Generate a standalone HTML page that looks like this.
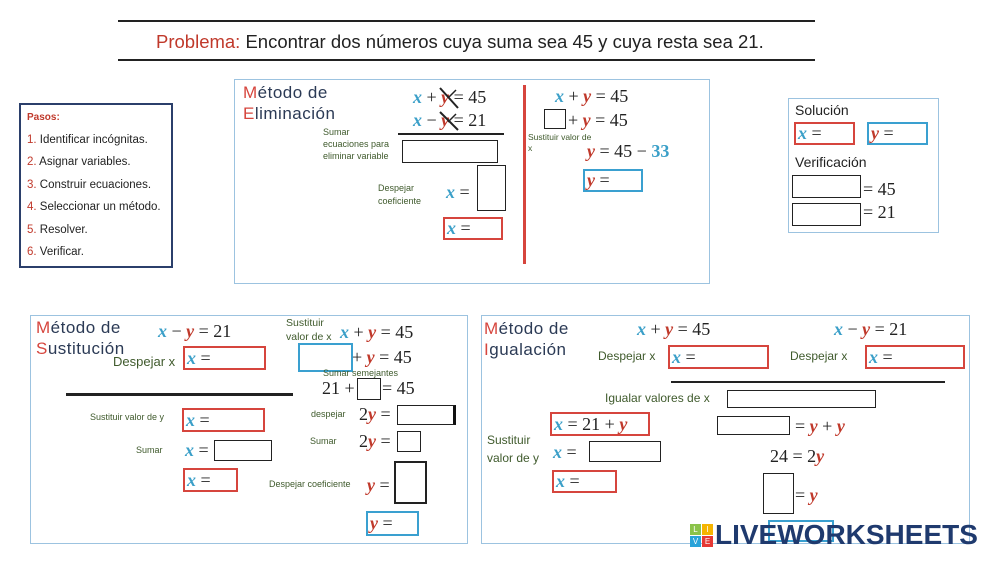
<!DOCTYPE html>
<html><head><meta charset="utf-8"><style>
*{margin:0;padding:0;box-sizing:border-box}
body{width:999px;height:562px;background:#fff;position:relative;overflow:hidden;font-family:"Liberation Sans",sans-serif;color:#222}
.a{position:absolute;white-space:nowrap;line-height:1}
.b{position:absolute;border:1px solid #222;background:#fff}
.r{border:2px solid #d6453d}
.bl{border:2px solid #3aa0d0}
.m{font-family:"Liberation Serif",serif;font-size:18px;color:#222}
.x{color:#3a9fc8;font-style:italic;font-weight:bold}
.y{color:#c0392b;font-style:italic;font-weight:bold}
.g{color:#3f5a2c;font-size:9px}
.h{font-size:17px;color:#2b3a55;line-height:21px;letter-spacing:0.5px}
.h span{color:#d6453d}
.frame{position:absolute;border:1px solid #9cc3e0}
</style></head><body>
<!-- title -->
<div class="a" style="left:118px;top:20px;width:697px;height:2px;background:#222"></div>
<div class="a" style="left:118px;top:59px;width:697px;height:2px;background:#222"></div>
<div class="a" style="left:156px;top:33px;font-size:18.5px;color:#222"><span style="color:#c0392b">Problema:</span> Encontrar dos números cuya suma sea 45 y cuya resta sea 21.</div>

<!-- pasos -->
<div class="a" style="left:19px;top:103px;width:154px;height:165px;border:2px solid #2b3f6b"></div>
<div class="a" style="left:27px;top:113px;font-size:10px;color:#c0392b;font-weight:bold">Pasos:</div>
<div class="a" style="left:27px;top:129px;font-size:11.5px;line-height:22.4px"><span style="color:#c0392b">1.</span> Identificar incógnitas.<br><span style="color:#c0392b">2.</span> Asignar variables.<br><span style="color:#c0392b">3.</span> Construir ecuaciones.<br><span style="color:#c0392b">4.</span> Seleccionar un método.<br><span style="color:#c0392b">5.</span> Resolver.<br><span style="color:#c0392b">6.</span> Verificar.</div>

<!-- eliminacion -->
<div class="frame" style="left:234px;top:79px;width:476px;height:205px"></div>
<div class="a h" style="left:243px;top:82px"><span>M</span>étodo de<br><span>E</span>liminación</div>
<div class="a m" style="left:413px;top:88px"><span class="x">x</span> + <span class="y">y</span> = 45</div>
<div class="a m" style="left:413px;top:111px"><span class="x">x</span> − <span class="y">y</span> = 21</div>
<svg class="a" style="left:436px;top:84px" width="30" height="50"><line x1="4" y1="4" x2="22" y2="24" stroke="#222" stroke-width="2"/><line x1="4" y1="28" x2="22" y2="46" stroke="#222" stroke-width="2"/><line x1="20" y1="6" x2="12" y2="14" stroke="#222" stroke-width="1.5"/><line x1="20" y1="30" x2="12" y2="38" stroke="#222" stroke-width="1.5"/></svg>
<div class="a" style="left:398px;top:133px;width:106px;height:2px;background:#222"></div>
<div class="a g" style="left:323px;top:126px;line-height:12px">Sumar<br>ecuaciones para<br>eliminar variable</div>
<div class="b" style="left:402px;top:140px;width:96px;height:23px"></div>
<div class="a g" style="left:378px;top:182px;line-height:13px">Despejar<br>coeficiente</div>
<div class="a m" style="left:446px;top:183px"><span class="x">x</span> =</div>
<div class="b" style="left:477px;top:165px;width:29px;height:46px"></div>
<div class="b r" style="left:443px;top:217px;width:60px;height:23px"></div>
<div class="a m" style="left:447px;top:219px"><span class="x">x</span> =</div>
<div class="a" style="left:523px;top:85px;width:3px;height:179px;background:#d6453d"></div>
<div class="a m" style="left:555px;top:87px"><span class="x">x</span> + <span class="y">y</span> = 45</div>
<div class="b" style="left:544px;top:109px;width:22px;height:20px"></div>
<div class="a m" style="left:568px;top:111px">+ <span class="y">y</span> = 45</div>
<div class="a g" style="left:528px;top:132px;font-size:8.5px;line-height:11px">Sustituir valor de<br>x</div>
<div class="a m" style="left:587px;top:142px"><span class="y">y</span> = 45 − <span style="color:#3a9fc8;font-weight:bold">33</span></div>
<div class="b bl" style="left:583px;top:169px;width:60px;height:23px"></div>
<div class="a m" style="left:587px;top:171px"><span class="y">y</span> =</div>

<!-- solucion -->
<div class="frame" style="left:788px;top:98px;width:151px;height:135px"></div>
<div class="a" style="left:795px;top:103px;font-size:14px">Solución</div>
<div class="b r" style="left:794px;top:122px;width:61px;height:23px"></div>
<div class="a m" style="left:798px;top:124px"><span class="x">x</span> =</div>
<div class="b bl" style="left:867px;top:122px;width:61px;height:23px"></div>
<div class="a m" style="left:871px;top:124px"><span class="y">y</span> =</div>
<div class="a" style="left:795px;top:155px;font-size:14px">Verificación</div>
<div class="b" style="left:792px;top:175px;width:69px;height:23px"></div>
<div class="a m" style="left:863px;top:180px">= 45</div>
<div class="b" style="left:792px;top:203px;width:69px;height:23px"></div>
<div class="a m" style="left:863px;top:203px">= 21</div>

<!-- sustitucion -->
<div class="frame" style="left:30px;top:315px;width:438px;height:229px"></div>
<div class="a h" style="left:36px;top:317px"><span>M</span>étodo de<br><span>S</span>ustitución</div>
<div class="a m" style="left:158px;top:322px"><span class="x">x</span> − <span class="y">y</span> = 21</div>
<div class="a" style="left:113px;top:355px;font-size:13px;color:#3f5a2c">Despejar x</div>
<div class="b r" style="left:183px;top:346px;width:83px;height:24px"></div>
<div class="a m" style="left:187px;top:349px"><span class="x">x</span> =</div>
<div class="a" style="left:66px;top:393px;width:227px;height:3px;background:#222"></div>
<div class="a g" style="left:90px;top:413px">Sustituir valor de y</div>
<div class="b r" style="left:182px;top:408px;width:83px;height:24px"></div>
<div class="a m" style="left:186px;top:411px"><span class="x">x</span> =</div>
<div class="a g" style="left:136px;top:446px">Sumar</div>
<div class="a m" style="left:185px;top:441px"><span class="x">x</span> =</div>
<div class="b" style="left:214px;top:440px;width:58px;height:21px"></div>
<div class="b r" style="left:183px;top:468px;width:55px;height:24px"></div>
<div class="a m" style="left:187px;top:471px"><span class="x">x</span> =</div>
<div class="a" style="left:286px;top:316px;font-size:10.5px;color:#3f5a2c;line-height:14px">Sustituir<br>valor de x</div>
<div class="a m" style="left:340px;top:323px"><span class="x">x</span> + <span class="y">y</span> = 45</div>
<div class="b bl" style="left:298px;top:343px;width:55px;height:29px"></div>
<div class="a m" style="left:352px;top:348px">+ <span class="y">y</span> = 45</div>
<div class="a g" style="left:323px;top:369px">Sumar semejantes</div>
<div class="a m" style="left:322px;top:379px">21 +</div>
<div class="b" style="left:357px;top:378px;width:24px;height:22px"></div>
<div class="a m" style="left:382px;top:379px">= 45</div>
<div class="a g" style="left:311px;top:410px">despejar</div>
<div class="a m" style="left:359px;top:405px">2<span class="y">y</span> =</div>
<div class="b" style="left:397px;top:405px;width:59px;height:20px;border-right:3px solid #111"></div>
<div class="a g" style="left:310px;top:437px">Sumar</div>
<div class="a m" style="left:359px;top:432px">2<span class="y">y</span> =</div>
<div class="b" style="left:397px;top:431px;width:24px;height:21px"></div>
<div class="a g" style="left:269px;top:480px">Despejar coeficiente</div>
<div class="a m" style="left:367px;top:476px"><span class="y">y</span> =</div>
<div class="b" style="left:394px;top:461px;width:33px;height:43px;border-width:2px"></div>
<div class="b bl" style="left:366px;top:511px;width:53px;height:25px"></div>
<div class="a m" style="left:370px;top:514px"><span class="y">y</span> =</div>

<!-- igualacion -->
<div class="frame" style="left:481px;top:315px;width:489px;height:229px"></div>
<div class="a h" style="left:484px;top:318px"><span>M</span>étodo de<br><span>I</span>gualación</div>
<div class="a m" style="left:637px;top:320px"><span class="x">x</span> + <span class="y">y</span> = 45</div>
<div class="a m" style="left:834px;top:320px"><span class="x">x</span> − <span class="y">y</span> = 21</div>
<div class="a" style="left:598px;top:350px;font-size:12px;color:#3f5a2c">Despejar x</div>
<div class="b r" style="left:668px;top:345px;width:101px;height:24px"></div>
<div class="a m" style="left:672px;top:348px"><span class="x">x</span> =</div>
<div class="a" style="left:790px;top:350px;font-size:12px;color:#3f5a2c">Despejar x</div>
<div class="b r" style="left:865px;top:345px;width:100px;height:24px"></div>
<div class="a m" style="left:869px;top:348px"><span class="x">x</span> =</div>
<div class="a" style="left:671px;top:381px;width:274px;height:2px;background:#222"></div>
<div class="a" style="left:605px;top:392px;font-size:12px;color:#3f5a2c">Igualar valores de x</div>
<div class="b" style="left:727px;top:390px;width:149px;height:18px"></div>
<div class="b r" style="left:550px;top:412px;width:100px;height:24px"></div>
<div class="a m" style="left:554px;top:415px"><span class="x">x</span> = 21 + <span class="y">y</span></div>
<div class="a" style="left:487px;top:431px;font-size:12px;color:#3f5a2c;line-height:18px">Sustituir<br>valor de y</div>
<div class="a m" style="left:553px;top:443px"><span class="x">x</span> =</div>
<div class="b" style="left:589px;top:441px;width:72px;height:21px"></div>
<div class="b r" style="left:552px;top:470px;width:65px;height:23px"></div>
<div class="a m" style="left:556px;top:472px"><span class="x">x</span> =</div>
<div class="b" style="left:717px;top:416px;width:73px;height:19px"></div>
<div class="a m" style="left:795px;top:417px">= <span class="y">y</span> + <span class="y">y</span></div>
<div class="a m" style="left:770px;top:447px">24 = 2<span class="y">y</span></div>
<div class="b" style="left:763px;top:473px;width:31px;height:41px"></div>
<div class="a m" style="left:795px;top:486px">= <span class="y">y</span></div>
<div class="b bl" style="left:768px;top:520px;width:66px;height:22px"></div>

<!-- logo -->
<div class="a" style="left:690px;top:524px;width:24px;height:24px">
<div class="a" style="left:0;top:0;width:11px;height:11px;background:#8bc34a;font-size:8px;color:#fff;text-align:center;line-height:11px">L</div>
<div class="a" style="left:12px;top:0;width:11px;height:11px;background:#f5b400;font-size:8px;color:#fff;text-align:center;line-height:11px">I</div>
<div class="a" style="left:0;top:12px;width:11px;height:11px;background:#29a3d9;font-size:8px;color:#fff;text-align:center;line-height:11px">V</div>
<div class="a" style="left:12px;top:12px;width:11px;height:11px;background:#e53935;font-size:8px;color:#fff;text-align:center;line-height:11px">E</div>
</div>
<div class="a" style="left:715px;top:521px;font-size:28px;font-weight:bold;color:#1f3a6e">LIVEWORKSHEETS</div>
</body></html>
